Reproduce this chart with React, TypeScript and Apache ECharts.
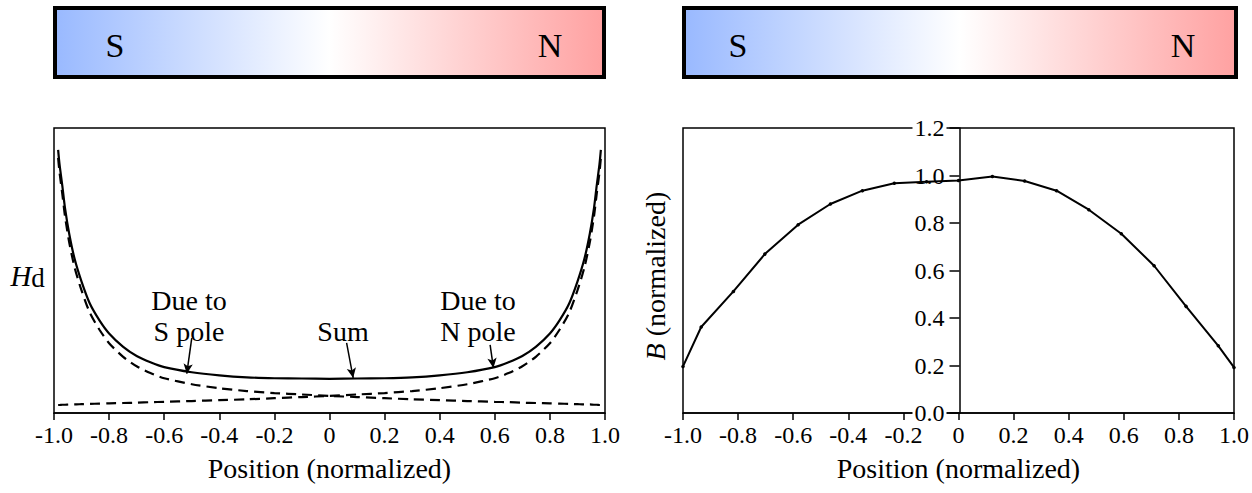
import React, { useEffect, useRef } from "react";
import * as echarts from "echarts";

// ---- Left chart: demagnetizing field H_d (arbitrary units) ----
const hPos = [
  -0.985, -0.98, -0.97, -0.96, -0.945, -0.925, -0.9, -0.87, -0.835, -0.8,
  -0.75, -0.7, -0.65, -0.6, -0.5, -0.4, -0.3, -0.2, -0.1, 0,
  0.1, 0.2, 0.3, 0.4, 0.5, 0.6, 0.65, 0.7, 0.75, 0.8,
  0.835, 0.87, 0.9, 0.925, 0.945, 0.96, 0.97, 0.98, 0.985,
];
const hSPole = [
  0.895, 0.845, 0.77, 0.69, 0.6, 0.51, 0.43, 0.352, 0.292, 0.245,
  0.198, 0.164, 0.14, 0.122, 0.101, 0.087, 0.077, 0.07, 0.065, 0.06,
  0.056, 0.052, 0.048, 0.045, 0.042, 0.039, 0.038, 0.036, 0.035, 0.034,
  0.033, 0.032, 0.031, 0.03, 0.03, 0.029, 0.029, 0.028, 0.028,
];
const hNPole = [
  0.028, 0.028, 0.029, 0.029, 0.03, 0.03, 0.031, 0.032, 0.033, 0.034,
  0.035, 0.036, 0.038, 0.039, 0.042, 0.045, 0.048, 0.052, 0.056, 0.06,
  0.065, 0.07, 0.077, 0.087, 0.101, 0.122, 0.14, 0.164, 0.198, 0.245,
  0.292, 0.352, 0.43, 0.51, 0.6, 0.69, 0.77, 0.845, 0.895,
];
const hSum = [
  0.923, 0.873, 0.799, 0.719, 0.63, 0.54, 0.461, 0.384, 0.325, 0.279,
  0.233, 0.2, 0.178, 0.161, 0.143, 0.132, 0.125, 0.122, 0.121, 0.12,
  0.121, 0.122, 0.125, 0.132, 0.143, 0.161, 0.178, 0.2, 0.233, 0.279,
  0.325, 0.384, 0.461, 0.54, 0.63, 0.719, 0.799, 0.873, 0.923,
];

// ---- Right chart: B (normalized) ----
const bPos = [
  -1.0, -0.934, -0.817, -0.703, -0.582, -0.465, -0.349, -0.233, -0.116, 0,
  0.123, 0.24, 0.356, 0.473, 0.591, 0.71, 0.826, 0.943, 1.0,
];
const bVal = [
  0.196, 0.362, 0.512, 0.669, 0.793, 0.88, 0.936, 0.967, 0.974, 0.979,
  0.996, 0.977, 0.936, 0.856, 0.755, 0.62, 0.449, 0.283, 0.192,
];

// annotation arrows (data coords of left chart): [x1, y1, x2, y2]
const arrowS = [-0.5, 0.263, -0.518, 0.138];
const arrowSum = [0.062, 0.246, 0.086, 0.123];
const arrowN = [0.583, 0.239, 0.595, 0.158];

const FONT = "'Liberation Serif', 'Times New Roman', 'DejaVu Serif', serif";

const xLabel = (v: number) => (Math.abs(v) < 1e-9 ? "0" : v.toFixed(1));

// right plot area (pixels) — y axis sits at x = 0, the middle of the plot
const RIGHT_LEFT = 683;
const RIGHT_RIGHT = 1236;

export default function App() {
  const ref = useRef<HTMLDivElement>(null);
  useEffect(() => {
    if (!ref.current) return;
    const chart = echarts.init(ref.current, null, { renderer: "svg", width: 1252, height: 493 });
    const grad = () =>
      new echarts.graphic.LinearGradient(0, 0, 1, 0, [
        { offset: 0, color: "#99b9ff" },
        { offset: 0.5, color: "#ffffff" },
        { offset: 1, color: "#ffa1a1" },
      ]);
    const xAxisCommon = {
      type: "value",
      min: -1,
      max: 1,
      interval: 0.2,
      z: 0,
      splitLine: { show: false },
      axisLine: { onZero: false, lineStyle: { color: "#000", width: 1.5 } },
      axisTick: { show: true, length: 7, lineStyle: { color: "#000", width: 1.5 } },
      axisLabel: { formatter: xLabel, color: "#000", fontFamily: FONT, fontSize: 24, margin: 10 },
      name: "Position (normalized)",
      nameLocation: "middle",
      nameGap: 41,
      nameTextStyle: { color: "#000", fontFamily: FONT, fontSize: 28 },
    };
    const arrow = (a: number[]) => [
      { coord: [a[0], a[1]], symbol: "none" },
      { coord: [a[2], a[3]], symbol: "arrow" },
    ];
    const txt = (x: number, y: number, text: string, size: number, extra: any = {}) => ({
      type: "text",
      x,
      y,
      ...extra,
      style: { text, fontFamily: FONT, fontSize: size, fill: "#000", align: "center", verticalAlign: "middle", ...(extra.style || {}) },
    });
    const option: any = {
      animation: false,
      backgroundColor: "#fff",
      textStyle: { fontFamily: FONT, color: "#000" },
      grid: [
        { left: 54, right: 647, top: 128, bottom: 80, show: true, borderColor: "#000", borderWidth: 1.5, backgroundColor: "transparent" },
        { left: RIGHT_LEFT, right: 1252 - RIGHT_RIGHT, top: 128, bottom: 80, show: true, borderColor: "#000", borderWidth: 1.5, backgroundColor: "transparent" },
      ],
      xAxis: [
        { ...xAxisCommon, gridIndex: 0 },
        { ...xAxisCommon, gridIndex: 1 },
      ],
      yAxis: [
        { type: "value", gridIndex: 0, min: 0, max: 1, show: false, splitLine: { show: false } },
        {
          type: "value",
          gridIndex: 1,
          position: "left",
          offset: -(RIGHT_RIGHT - RIGHT_LEFT) / 2,
          min: 0,
          max: 1.2,
          interval: 0.2,
          z: 1,
          splitLine: { show: false },
          axisLine: { show: true, onZero: false, lineStyle: { color: "#000", width: 1.5 } },
          axisTick: { show: true, length: 10, lineStyle: { color: "#000", width: 1.5 } },
          axisLabel: {
            formatter: (v: number) => v.toFixed(1),
            color: "#000",
            fontFamily: FONT,
            fontSize: 24,
            margin: 13,
            backgroundColor: "#fff",
            padding: [0, 2, 0, 2],
          },
        },
      ],
      series: [
        {
          type: "line",
          xAxisIndex: 0,
          yAxisIndex: 0,
          data: hPos.map((p, i) => [p, hSum[i]]),
          showSymbol: false,
          smooth: 0.25,
          lineStyle: { color: "#000", width: 2.2 },
          z: 3,
          markLine: {
            silent: true,
            symbol: ["none", "arrow"],
            symbolSize: [7, 10],
            label: { show: false },
            lineStyle: { color: "#000", width: 1.5, type: "solid" },
            data: [arrow(arrowS), arrow(arrowSum), arrow(arrowN)],
          },
        },
        {
          type: "line",
          xAxisIndex: 0,
          yAxisIndex: 0,
          data: hPos.map((p, i) => [p, hSPole[i]]),
          showSymbol: false,
          smooth: 0.25,
          lineStyle: { color: "#000", width: 2.2, type: [10, 6] },
        },
        {
          type: "line",
          xAxisIndex: 0,
          yAxisIndex: 0,
          data: hPos.map((p, i) => [p, hNPole[i]]),
          showSymbol: false,
          smooth: 0.25,
          lineStyle: { color: "#000", width: 2.2, type: [10, 6] },
        },
        {
          type: "line",
          xAxisIndex: 1,
          yAxisIndex: 1,
          data: bPos.map((p, i) => [p, bVal[i]]),
          symbol: "circle",
          symbolSize: 3.5,
          showSymbol: true,
          itemStyle: { color: "#000" },
          lineStyle: { color: "#000", width: 2 },
          z: 3,
        },
      ],
      graphic: [
        { type: "rect", shape: { x: 55, y: 8, width: 549, height: 69 }, style: { fill: grad(), stroke: "#000", lineWidth: 4 } },
        { type: "rect", shape: { x: 684, y: 8, width: 552, height: 69 }, style: { fill: grad(), stroke: "#000", lineWidth: 4 } },
        txt(115, 45, "S", 34),
        txt(550, 45, "N", 34),
        txt(738, 45, "S", 34),
        txt(1183, 45, "N", 34),
        txt(21, 276, "H", 29, { style: { fontStyle: "italic" } }),
        txt(38, 278, "d", 27),
        txt(189, 300, "Due to", 28),
        txt(189, 331, "S pole", 28),
        txt(343, 331, "Sum", 28),
        txt(478, 300, "Due to", 28),
        txt(478, 331, "N pole", 28),
        txt(655, 352, "B", 28, { rotation: Math.PI / 2, style: { fontStyle: "italic" } }),
        txt(655, 264, "(normalized)", 28, { rotation: Math.PI / 2 }),
      ],
    };
    chart.setOption(option);
    return () => chart.dispose();
  }, []);
  return <div ref={ref} style={{ position: "absolute", left: 0, top: 0, width: 1252, height: 493, background: "#fff" }} />;
}
